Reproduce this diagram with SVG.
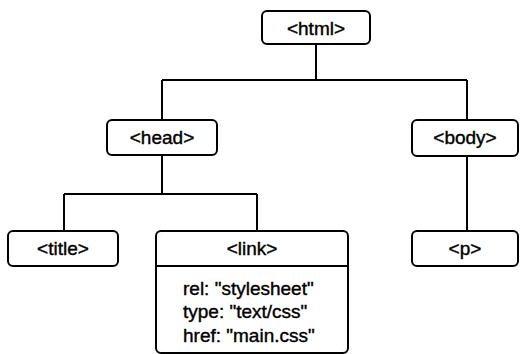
<svg xmlns="http://www.w3.org/2000/svg" width="520" height="354" viewBox="0 0 520 354">
<style>
.box{fill:#fff;stroke:#000;stroke-width:2}
.ln{stroke:#000;stroke-width:2;fill:none}
text{font-family:"Liberation Sans",Arial,sans-serif;font-size:19px;fill:#000;stroke:#000;stroke-width:0.4}
.c{text-anchor:middle}
</style>
<rect width="520" height="354" fill="#fff"/>
<g id="connectors">
<path class="ln" d="M316 44V80M162 80H467M162 80V119M467 80V120M162 155V194M64 194H257M64 194V231M257 194V231M467 156V231"/>
</g>
<g id="html"><rect class="box" x="262" y="11" width="108" height="33" rx="5"/><text class="c" x="316" y="35">&lt;html&gt;</text></g>
<g id="head"><rect class="box" x="107" y="120" width="110" height="35" rx="5"/><text class="c" x="162" y="144">&lt;head&gt;</text></g>
<g id="body"><rect class="box" x="412" y="120" width="106" height="36" rx="5"/><text class="c" x="465" y="144">&lt;body&gt;</text></g>
<g id="title"><rect class="box" x="8" y="231" width="110" height="35" rx="5"/><text class="c" x="63" y="255">&lt;title&gt;</text></g>
<g id="link"><rect class="box" x="156" y="231" width="192" height="122" rx="5"/><line class="ln" x1="156" y1="266" x2="348" y2="266"/><text class="c" x="252" y="255">&lt;link&gt;</text>
<text x="183" y="295">rel: "stylesheet"</text><text x="183" y="318">type: "text/css"</text><text x="183" y="342">href: "main.css"</text></g>
<g id="p"><rect class="box" x="412" y="231" width="106" height="35" rx="5"/><text class="c" x="465" y="255">&lt;p&gt;</text></g>
</svg>
